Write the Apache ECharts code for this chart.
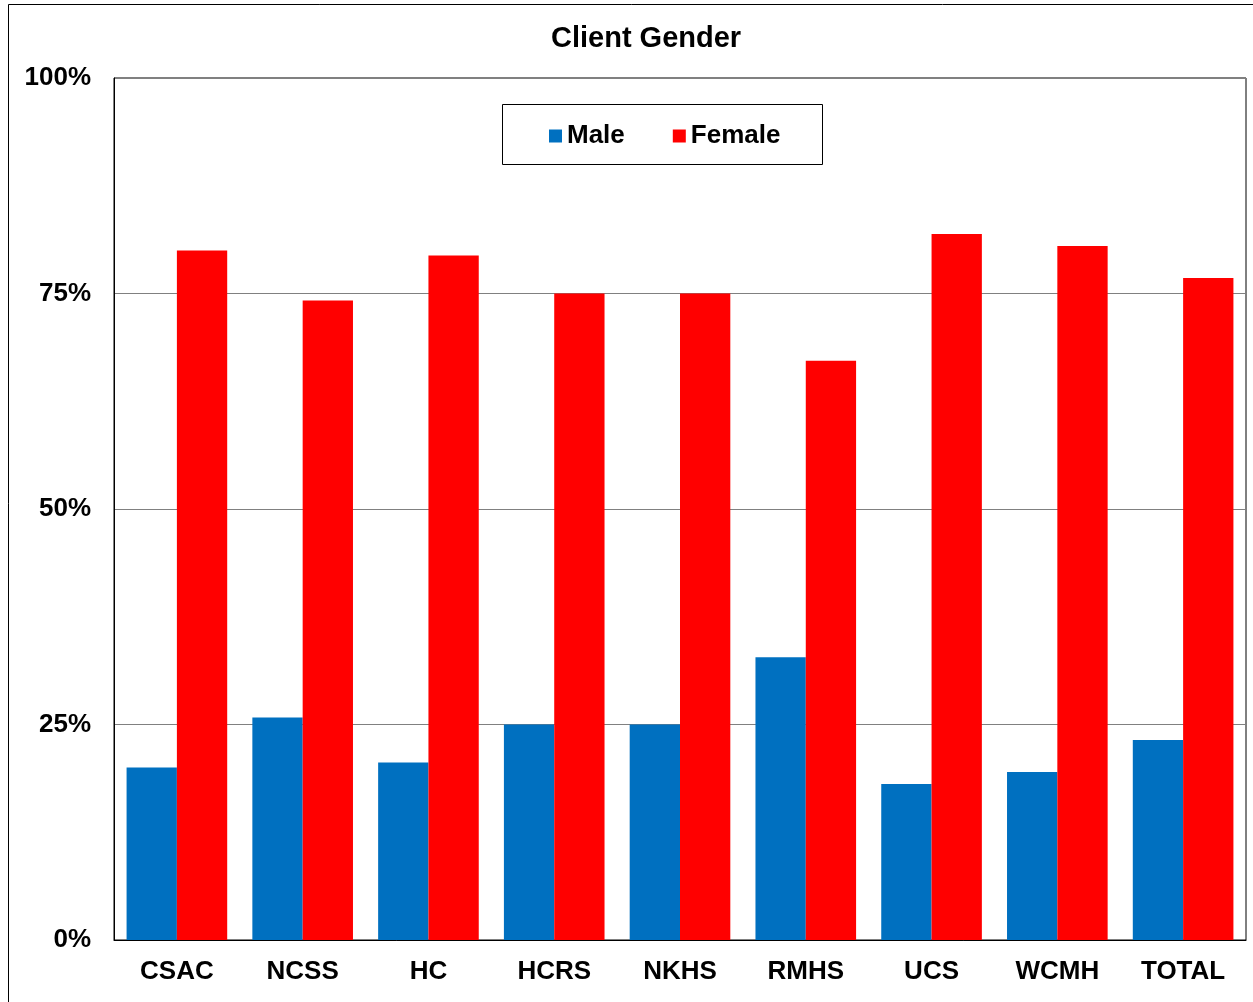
<!DOCTYPE html>
<html><head><meta charset="utf-8">
<script src="https://cdn.jsdelivr.net/npm/echarts@6/dist/echarts.min.js"></script>
<style>html,body{margin:0;padding:0;background:#fff}#c{width:1253px;height:1002px}</style>
</head><body><div id="c"></div>
<script>
const categories = ['CSAC','NCSS','HC','HCRS','NKHS','RMHS','UCS','WCMH','TOTAL'];
const maleValues = [20, 25.8, 20.6, 25, 25, 32.8, 18.1, 19.5, 23.2];
const femaleValues = [80, 74.2, 79.4, 75, 75, 67.2, 81.9, 80.5, 76.8];
const yTicks = [0, 25, 50, 75, 100];

const font = 'Liberation Sans, Arial, sans-serif';
const chart = echarts.init(document.getElementById('c'));
chart.setOption({
  backgroundColor: '#fff',
  animation: false,
  title: {
    text: 'Client Gender', left: 546, top: 19,
    textStyle: {fontFamily: font, fontWeight: 'bold', fontSize: 29, color: '#000'}
  },
  graphic: [
    {type: 'rect', shape: {x: 8.5, y: 4.5, width: 1300, height: 1100}, style: {fill: 'none', stroke: '#000', lineWidth: 1}, z: 0},
    {type: 'rect', shape: {x: 502.5, y: 104.5, width: 320, height: 60}, style: {fill: '#fff', stroke: '#000', lineWidth: 1}, z: 5}
  ],
  legend: {
    left: 544, top: 118, itemWidth: 13, itemHeight: 13, itemGap: 48,
    icon: 'rect', z: 10,
    textStyle: {fontFamily: font, fontWeight: 'bold', fontSize: 26, color: '#000'},
    data: ['Male', 'Female']
  },
  grid: {left: 114, right: 7, top: 78, bottom: 62, show: true, borderColor: '#000', borderWidth: 1, containLabel: false},
  xAxis: {
    type: 'category', data: categories,
    axisLine: {lineStyle: {color: '#000'}}, axisTick: {show: false},
    axisLabel: {fontFamily: font, fontWeight: 'bold', fontSize: 26, color: '#000', margin: 19}
  },
  yAxis: {
    type: 'value', min: 0, max: 100, interval: 25,
    axisLine: {show: true, lineStyle: {color: '#000'}}, axisTick: {show: false},
    splitLine: {lineStyle: {color: '#808080', width: 1}},
    axisLabel: {fontFamily: font, fontWeight: 'bold', fontSize: 26, color: '#000', margin: 23,
      lineHeight: 30, padding: [6, 0, 0, 0],
      formatter: v => yTicks.includes(v) ? v + '%' : ''}
  },
  series: [
    {name: 'Male', type: 'bar', data: maleValues, barGap: '0%', barCategoryGap: '20%',
     itemStyle: {color: '#0070C0'}},
    {name: 'Female', type: 'bar', data: femaleValues, barGap: '0%', barCategoryGap: '20%',
     itemStyle: {color: '#FF0000'}}
  ]
});
</script></body></html>
